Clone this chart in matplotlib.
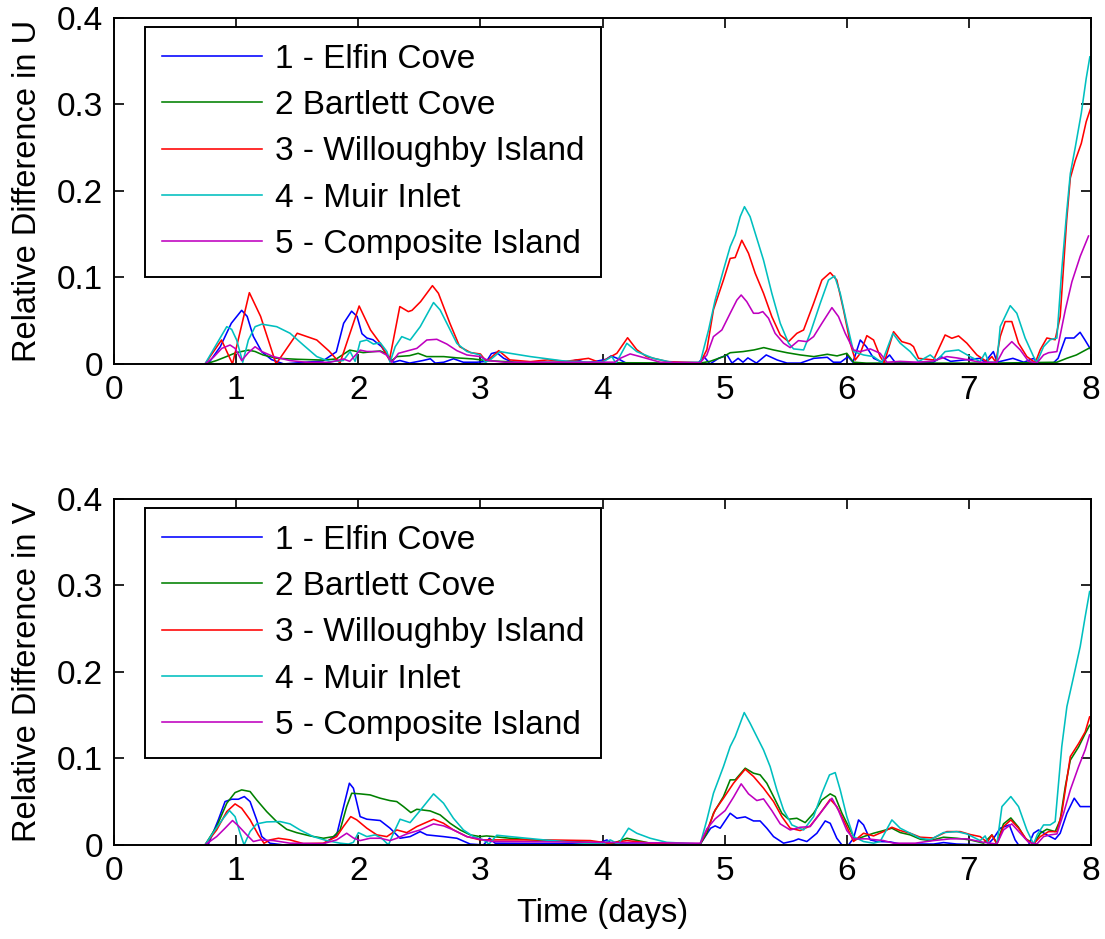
import matplotlib
matplotlib.use("Agg")
import matplotlib.pyplot as plt
import numpy as np

plt.rcParams['font.family'] = ['Liberation Sans', 'DejaVu Sans']

# (time in days, relative difference) pairs
u_elfin = np.array([
    (0.77, 0), (0.87, .020), (0.96, .047), (1.045, .062), (1.09, .055), (1.14, .032),
    (1.21, .014), (1.29, .005), (1.39, 0), (1.71, .0035), (1.82, .014), (1.88, .047),
    (1.945, .061), (1.99, .055), (2.03, .035), (2.07, .030), (2.12, .028), (2.19, .020),
    (2.25, .007), (2.29, .002), (2.34, .004), (2.42, .001), (2.53, .004), (2.59, .006),
    (2.63, .001), (2.70, .002), (2.78, .006), (2.86, .002), (2.97, .002), (3.05, .003),
    (3.09, .012), (3.13, .0135), (3.19, .0066), (3.27, .0015), (3.70, .0015), (3.79, .0047),
    (3.87, .001), (4.03, .0054), (4.07, .0093), (4.12, .0065), (4.20, .0005), (4.78, .0005),
    (4.83, .0085), (4.88, 0), (4.95, .0065), (5.02, .0104), (5.06, .001), (5.11, .0065),
    (5.15, .002), (5.19, .007), (5.26, .001), (5.34, .0104), (5.43, .0046), (5.51, .001),
    (5.62, .001), (5.73, .0065), (5.84, .0077), (5.89, .002), (5.95, .002), (6.01, .0085),
    (6.05, .002), (6.11, .0277), (6.16, .020), (6.22, .0065), (6.29, .002), (6.35, .0104),
    (6.40, .001), (6.71, .002), (6.77, .0085), (6.85, .003), (7.09, .0065), (7.13, .002),
    (7.20, .0143), (7.23, .002), (7.36, .0065), (7.45, .002), (7.53, .0065), (7.56, .001),
    (7.69, .001), (7.73, .0065), (7.79, .030), (7.86, .030), (7.91, .0366), (7.95, .0277),
    (8.0, .016)])

u_bartlett = np.array([
    (0.75, 0), (0.84, .004), (0.92, .0085), (1.00, .0131), (1.10, .016), (1.155, .0144),
    (1.22, .0104), (1.33, .0066), (1.50, .0054), (1.71, .0045), (1.82, .0058), (1.93, .016),
    (1.99, .0144), (2.04, .0131), (2.18, .015), (2.23, .012), (2.275, .004), (2.315, .0085),
    (2.42, .0096), (2.49, .0123), (2.56, .0085), (2.70, .0085), (2.81, .007), (2.94, .0058),
    (3.05, .0039), (3.30, .002), (4.00, .0015), (4.80, .001), (4.88, .003), (4.99, .0085),
    (5.045, .013), (5.15, .0143), (5.24, .0162), (5.32, .0189), (5.40, .0162), (5.51, .013),
    (5.62, .0104), (5.73, .0085), (5.84, .0112), (5.92, .0093), (6.00, .0123), (6.055, .002),
    (6.16, .001), (7.20, .001), (7.72, .002), (7.80, .0065), (7.88, .0104), (8.0, .0195)])

u_willoughby = np.array([
    (0.745, 0), (0.88, .0277), (0.97, 0), (1.108, .0824), (1.20, .055), (1.327, 0),
    (1.50, .0355), (1.66, .0277), (1.76, .015), (1.85, .001), (2.007, .067), (2.10, .0393),
    (2.18, .0238), (2.255, .0045), (2.34, .0663), (2.41, .0605), (2.44, .062), (2.51, .072),
    (2.607, .0905), (2.656, .0817), (2.75, .047), (2.83, .020), (2.92, .0131), (3.00, .0115),
    (3.05, .0027), (3.15, .0154), (3.24, .0047), (3.41, .0027), (3.55, .0047), (3.70, .003),
    (3.885, .0065), (3.98, .0015), (4.117, .0123), (4.205, .0303), (4.28, .0165),
    (4.36, .0085), (4.53, .0027), (4.80, .0015), (4.854, .0165), (4.908, .0627),
    (4.99, .0971), (5.045, .122), (5.086, .123), (5.14, .143), (5.195, .1279), (5.25, .1048),
    (5.318, .0817), (5.386, .0547), (5.455, .0335), (5.523, .0258), (5.591, .0354),
    (5.646, .0393), (5.728, .070), (5.796, .097), (5.864, .1056), (5.918, .097),
    (5.973, .0624), (6.028, .024), (6.069, .0046), (6.11, .0123), (6.164, .0327),
    (6.219, .0277), (6.273, .0085), (6.306, .0015), (6.383, .0373), (6.45, .0258),
    (6.519, .023), (6.546, .020), (6.587, .0065), (6.71, .0046), (6.805, .0335),
    (6.86, .0297), (6.915, .0324), (6.983, .024), (7.065, .0104), (7.147, .0027),
    (7.188, .0085), (7.22, .002), (7.256, .0316), (7.297, .049), (7.351, .049), (7.406, .024),
    (7.474, .0085), (7.543, .0015), (7.584, .0165), (7.638, .030), (7.706, .028),
    (7.747, .0547), (7.80, .166), (7.83, .215), (7.87, .235), (7.92, .255), (7.96, .28),
    (8.0, .297)])

u_muir = np.array([
    (0.745, 0), (0.827, .0199), (0.923, .0431), (0.963, .040), (1.004, .0277), (1.054, .002),
    (1.10, .0277), (1.155, .0431), (1.21, .046), (1.332, .0431), (1.441, .0355), (1.55, .0219),
    (1.66, .0085), (1.768, .0027), (1.878, .004), (1.933, .0144), (1.974, .003), (2.015, .0258),
    (2.07, .0277), (2.124, .023), (2.179, .0246), (2.234, .0144), (2.26, .002), (2.302, .0199),
    (2.356, .0316), (2.425, .0277), (2.507, .0431), (2.616, .071), (2.67, .0624), (2.725, .047),
    (2.807, .0238), (2.889, .0144), (2.998, .0104), (3.039, .002), (3.08, .0047),
    (3.161, .0143), (3.243, .0123), (3.41, .0085), (3.68, .0035), (3.90, .002), (4.006, .0027),
    (4.076, .0085), (4.11, .0008), (4.199, .0239), (4.28, .0143), (4.417, .0065),
    (4.58, .0015), (4.80, .002), (4.868, .0393), (4.922, .0739), (4.99, .1087),
    (5.045, .1356), (5.086, .149), (5.127, .1703), (5.162, .1818), (5.208, .1703),
    (5.263, .1452), (5.318, .120), (5.386, .0817), (5.455, .047), (5.523, .024),
    (5.564, .0174), (5.646, .0162), (5.70, .0354), (5.782, .070), (5.85, .097), (5.90, .1017),
    (5.946, .0817), (6.00, .047), (6.055, .0143), (6.137, .0104), (6.219, .0085),
    (6.287, .0015), (6.377, .0354), (6.437, .024), (6.519, .0143), (6.587, .0027),
    (6.683, .0104), (6.737, .004), (6.805, .0143), (6.915, .0162), (7.01, .0085),
    (7.092, .0027), (7.133, .013), (7.16, .002), (7.229, .002), (7.256, .0432),
    (7.338, .0674), (7.392, .0586), (7.46, .030), (7.529, .0085), (7.556, .002), (7.611, .020),
    (7.665, .028), (7.72, .030), (7.76, .1087), (7.80, .175), (7.83, .22), (7.87, .25),
    (7.92, .29), (7.96, .33), (7.99, .355)])

u_composite = np.array([
    (0.745, 0), (0.814, .0077), (0.882, .018), (0.95, .0219), (0.991, .018), (1.045, .0039),
    (1.10, .0131), (1.155, .0199), (1.21, .0144), (1.305, .0085), (1.441, .0039),
    (1.578, .0019), (1.768, .0019), (1.878, .0058), (1.93, .003), (2.015, .016), (2.07, .0144),
    (2.179, .0144), (2.234, .010), (2.275, .0019), (2.329, .0123), (2.41, .0154), (2.479, .018),
    (2.561, .0277), (2.643, .0285), (2.725, .023), (2.807, .0154), (2.889, .0104),
    (2.998, .0085), (3.066, .0039), (3.20, .002), (4.10, .002), (4.144, .0065), (4.226, .0116),
    (4.308, .0085), (4.472, .002), (4.80, .0015), (4.854, .0104), (4.908, .0316),
    (4.977, .0393), (5.045, .0586), (5.10, .0739), (5.135, .0797), (5.181, .072),
    (5.236, .0586), (5.277, .0586), (5.312, .0605), (5.359, .0528), (5.413, .0354),
    (5.482, .024), (5.536, .0189), (5.604, .027), (5.673, .0258), (5.728, .0316),
    (5.796, .047), (5.878, .0651), (5.932, .0547), (5.987, .0354), (6.055, .0162),
    (6.11, .0143), (6.192, .0174), (6.273, .0123), (6.328, .002), (6.437, .003), (6.58, .002),
    (6.71, .0035), (6.819, .0085), (6.90, .007), (6.983, .005), (7.09, .002), (7.229, .002),
    (7.283, .0162), (7.351, .0258), (7.42, .0162), (7.488, .003), (7.556, .001),
    (7.611, .0104), (7.652, .013), (7.72, .0143), (7.789, .0624), (7.843, .095),
    (7.911, .1244), (7.979, .1479)])

v_elfin = np.array([
    (0.77, 0), (0.854, .029), (0.909, .0501), (0.963, .0528), (1.018, .0528), (1.067, .0559),
    (1.114, .0501), (1.168, .029), (1.21, .0096), (1.277, .0019), (1.387, 0), (1.714, .001),
    (1.823, .0116), (1.873, .0405), (1.927, .0713), (1.96, .0655), (2.015, .0327),
    (2.07, .0297), (2.179, .0282), (2.26, .0193), (2.342, .0077), (2.424, .0096),
    (2.506, .0154), (2.561, .0116), (2.698, .0096), (2.807, .0077), (2.916, .001),
    (3.025, 0), (3.074, .0077), (3.12, .002), (3.95, .001), (4.036, .0058), (4.08, .001),
    (4.80, .001), (4.885, .0193), (4.922, .022), (4.963, .0193), (5.045, .0366), (5.10, .0308),
    (5.168, .0324), (5.236, .0277), (5.29, .0277), (5.345, .0193), (5.40, .0096),
    (5.482, .002), (5.564, .0046), (5.604, .0069), (5.673, .0039), (5.755, .0135),
    (5.823, .0277), (5.864, .025), (5.918, .0077), (5.96, 0), (6.014, 0), (6.055, .0077),
    (6.096, .0289), (6.137, .0231), (6.192, .0058), (6.246, .004), (6.355, .0035),
    (6.437, .001), (6.71, .001), (6.792, .0027), (6.90, .001), (7.15, 0), (7.202, .0077),
    (7.256, .0193), (7.33, .0231), (7.378, .0058), (7.406, 0), (7.488, 0), (7.529, .0135),
    (7.57, .0173), (7.638, .0116), (7.706, .0066), (7.747, .0135), (7.802, .0366),
    (7.862, .054), (7.911, .0443), (7.988, .0443)])

v_bartlett = np.array([
    (0.745, 0), (0.84, .0212), (0.923, .0482), (0.991, .0605), (1.045, .0636), (1.114, .0617),
    (1.168, .052), (1.25, .0385), (1.332, .0269), (1.414, .018), (1.495, .0142),
    (1.605, .0104), (1.714, .0077), (1.796, .0096), (1.851, .0173), (1.905, .0443),
    (1.946, .0597), (2.015, .059), (2.097, .0578), (2.179, .054), (2.26, .0512),
    (2.315, .0501), (2.37, .0443), (2.43, .0374), (2.479, .0412), (2.588, .0393),
    (2.67, .0347), (2.752, .025), (2.834, .0173), (2.916, .0116), (2.998, .0096),
    (3.05, .0104), (3.243, .0077), (3.52, .005), (3.925, .003), (4.09, .002), (4.199, .0077),
    (4.39, .002), (4.80, .001), (4.854, .0135), (4.908, .0366), (4.99, .0559), (5.045, .0752),
    (5.086, .0752), (5.168, .0887), (5.236, .0829), (5.29, .081), (5.345, .0713),
    (5.40, .0559), (5.468, .0366), (5.523, .0297), (5.591, .0308), (5.659, .0258),
    (5.728, .0366), (5.796, .052), (5.864, .059), (5.905, .0559), (5.96, .0366),
    (6.028, .0173), (6.069, .0058), (6.137, .0096), (6.219, .0135), (6.301, .0166),
    (6.369, .0193), (6.437, .0143), (6.519, .0116), (6.601, .0066), (6.683, .005),
    (6.792, .0089), (6.901, .0077), (7.01, .0058), (7.12, .002), (7.188, .0116),
    (7.229, .002), (7.283, .0243), (7.343, .0312), (7.406, .0204), (7.46, .0077),
    (7.529, .001), (7.584, .0135), (7.638, .0181), (7.706, .0154), (7.747, .0289),
    (7.789, .0675), (7.83, .098), (7.898, .1133), (7.952, .1287), (7.988, .1383)])

v_willoughby = np.array([
    (0.745, 0), (0.84, .0173), (0.923, .0385), (0.991, .0474), (1.045, .0424), (1.114, .029),
    (1.182, .0116), (1.228, .0019), (1.277, .0058), (1.346, .0077), (1.441, .0058),
    (1.55, .0015), (1.714, .002), (1.823, .0096), (1.878, .0212), (1.938, .0327),
    (1.987, .029), (2.07, .0193), (2.152, .0116), (2.234, .0096), (2.315, .0173),
    (2.397, .0142), (2.479, .0212), (2.616, .0297), (2.698, .025), (2.779, .0173),
    (2.889, .0096), (2.998, .0058), (3.52, .0058), (3.90, .005), (4.05, .002), (4.20, .005),
    (4.40, .002), (4.80, .001), (4.868, .0212), (4.922, .0404), (4.99, .054), (5.072, .0713),
    (5.168, .0875), (5.236, .0791), (5.318, .0656), (5.40, .0501), (5.468, .0327),
    (5.536, .0193), (5.618, .0166), (5.70, .0219), (5.782, .0366), (5.864, .0528),
    (5.918, .0443), (5.987, .025), (6.055, .004), (6.137, .0135), (6.219, .0104),
    (6.301, .0154), (6.369, .0204), (6.437, .0166), (6.519, .0135), (6.601, .0089),
    (6.71, .008), (6.819, .0154), (6.928, .0154), (7.01, .012), (7.092, .0096), (7.15, .003),
    (7.188, .0115), (7.229, .001), (7.283, .0212), (7.343, .0289), (7.406, .0193),
    (7.474, .0058), (7.529, .001), (7.584, .0096), (7.652, .0154), (7.72, .0154),
    (7.76, .0366), (7.83, .1021), (7.898, .1172), (7.952, .1307), (7.988, .148)])

v_muir = np.array([
    (0.745, 0), (0.827, .0173), (0.895, .0308), (0.945, .0397), (0.991, .0327), (1.032, .0135),
    (1.065, 0), (1.114, .0154), (1.168, .0243), (1.25, .0266), (1.36, .027), (1.441, .0243),
    (1.523, .0173), (1.632, .0096), (1.741, .005), (1.851, .002), (1.92, .001), (1.96, .003),
    (2.001, .0142), (2.07, .0096), (2.138, .0116), (2.192, .0077), (2.247, 0), (2.288, .0135),
    (2.342, .0297), (2.424, .0258), (2.506, .0397), (2.616, .059), (2.698, .0482),
    (2.779, .0308), (2.861, .0173), (2.943, .0096), (3.025, .0058), (3.07, .001),
    (3.134, .0112), (3.243, .0096), (3.52, .0058), (3.85, .002), (4.00, .001), (4.063, .0058),
    (4.13, .001), (4.213, .0193), (4.28, .0135), (4.39, .0077), (4.526, .003), (4.80, .001),
    (4.854, .0289), (4.908, .0597), (4.99, .0906), (5.045, .1137), (5.086, .1252),
    (5.16, .153), (5.208, .1407), (5.263, .1252), (5.318, .1098), (5.372, .0906),
    (5.427, .0636), (5.482, .0404), (5.55, .0231), (5.646, .0173), (5.728, .0327),
    (5.796, .0597), (5.858, .0809), (5.905, .0836), (5.946, .0636), (6.00, .0327),
    (6.055, .0096), (6.137, .0039), (6.219, .002), (6.273, .004), (6.369, .0289),
    (6.437, .0193), (6.519, .0135), (6.601, .0077), (6.683, .006), (6.792, .0143),
    (6.901, .0154), (6.983, .0127), (7.092, .005), (7.133, .0104), (7.16, .001),
    (7.229, .001), (7.27, .0443), (7.343, .0559), (7.406, .0443), (7.474, .0173),
    (7.529, .001), (7.56, .012), (7.611, .0231), (7.665, .0231), (7.706, .027),
    (7.76, .1137), (7.802, .1599), (7.857, .1946), (7.911, .2293), (7.952, .264),
    (7.988, .2929)])

v_composite = np.array([
    (0.745, 0), (0.84, .0096), (0.909, .0193), (0.97, .0282), (1.018, .022), (1.087, .0116),
    (1.141, .0039), (1.196, .0058), (1.305, .005), (1.441, .002), (1.714, .0015),
    (1.823, .0058), (1.905, .0135), (1.96, .008), (2.015, .005), (2.097, .0077), (2.179, .0077),
    (2.26, .005), (2.315, .0077), (2.397, .0127), (2.506, .0173), (2.616, .0243),
    (2.698, .022), (2.779, .0173), (2.889, .0096), (3.025, .0058), (3.10, .004), (4.80, .002),
    (4.854, .0185), (4.922, .0301), (5.004, .0397), (5.072, .0551), (5.135, .0706),
    (5.195, .059), (5.263, .0513), (5.318, .0532), (5.386, .0397), (5.455, .0243),
    (5.536, .0173), (5.618, .0204), (5.70, .0212), (5.782, .0366), (5.878, .054),
    (5.932, .0397), (6.00, .0166), (6.055, .007), (6.164, .007), (6.301, .005), (6.383, .002),
    (6.56, .002), (6.71, .005), (6.846, .007), (6.983, .007), (7.12, .003), (7.229, .001),
    (7.283, .0173), (7.351, .0243), (7.42, .0135), (7.488, .003), (7.556, .001),
    (7.611, .0096), (7.665, .0116), (7.72, .0127), (7.775, .0366), (7.83, .0636),
    (7.898, .0906), (7.952, .110), (7.988, .1272)])

labels = ['1 - Elfin Cove', '2 Bartlett Cove', '3 - Willoughby Island',
          '4 - Muir Inlet', '5 - Composite Island']
colors = ['#0000ff', '#008000', '#ff0000', '#00bfbf', '#bf00bf']
xticks = np.arange(0, 9)
yticks = [0, 0.1, 0.2, 0.3, 0.4]

fig = plt.figure(figsize=(11.05, 9.39), dpi=100)
ax1 = fig.add_axes([0.1032, 0.6124, 0.8842, 0.3685])
ax2 = fig.add_axes([0.1032, 0.1002, 0.8842, 0.3685])

panels = [(ax1, [u_elfin, u_bartlett, u_willoughby, u_muir, u_composite], 'Relative Difference in U'),
          (ax2, [v_elfin, v_bartlett, v_willoughby, v_muir, v_composite], 'Relative Difference in V')]

for ax, series, ylab in panels:
    for s, c, lab in zip(series, colors, labels):
        ax.plot(s[:, 0], s[:, 1], color=c, lw=1.15, label=lab)
    ax.set_xlim(0, 8)
    ax.set_ylim(0, 0.4)
    ax.set_xticks(xticks)
    ax.set_xticklabels([str(x) for x in xticks])
    ax.set_yticks(yticks)
    ax.set_yticklabels(['0', '0.1', '0.2', '0.3', '0.4'])
    ax.tick_params(direction='in', length=7, width=1.2, top=True, right=True,
                   labelsize=24)
    ax.tick_params(axis='x', pad=8)
    ax.tick_params(axis='y', pad=8)
    for sp in ax.spines.values():
        sp.set_linewidth(1.4)
    ax.set_ylabel(ylab, fontsize=23.5, labelpad=10)
    leg = ax.legend(loc='upper left', bbox_to_anchor=(0.032, 0.974), borderaxespad=0,
                    fontsize=24, handlelength=3.0, handletextpad=0.4, labelspacing=0.46,
                    borderpad=0.5, fancybox=False, framealpha=1, edgecolor='black')
    leg.get_frame().set_linewidth(1.4)

ax2.set_xlabel('Time (days)', fontsize=23.5, labelpad=8)

fig.savefig('out.png', dpi=100)
